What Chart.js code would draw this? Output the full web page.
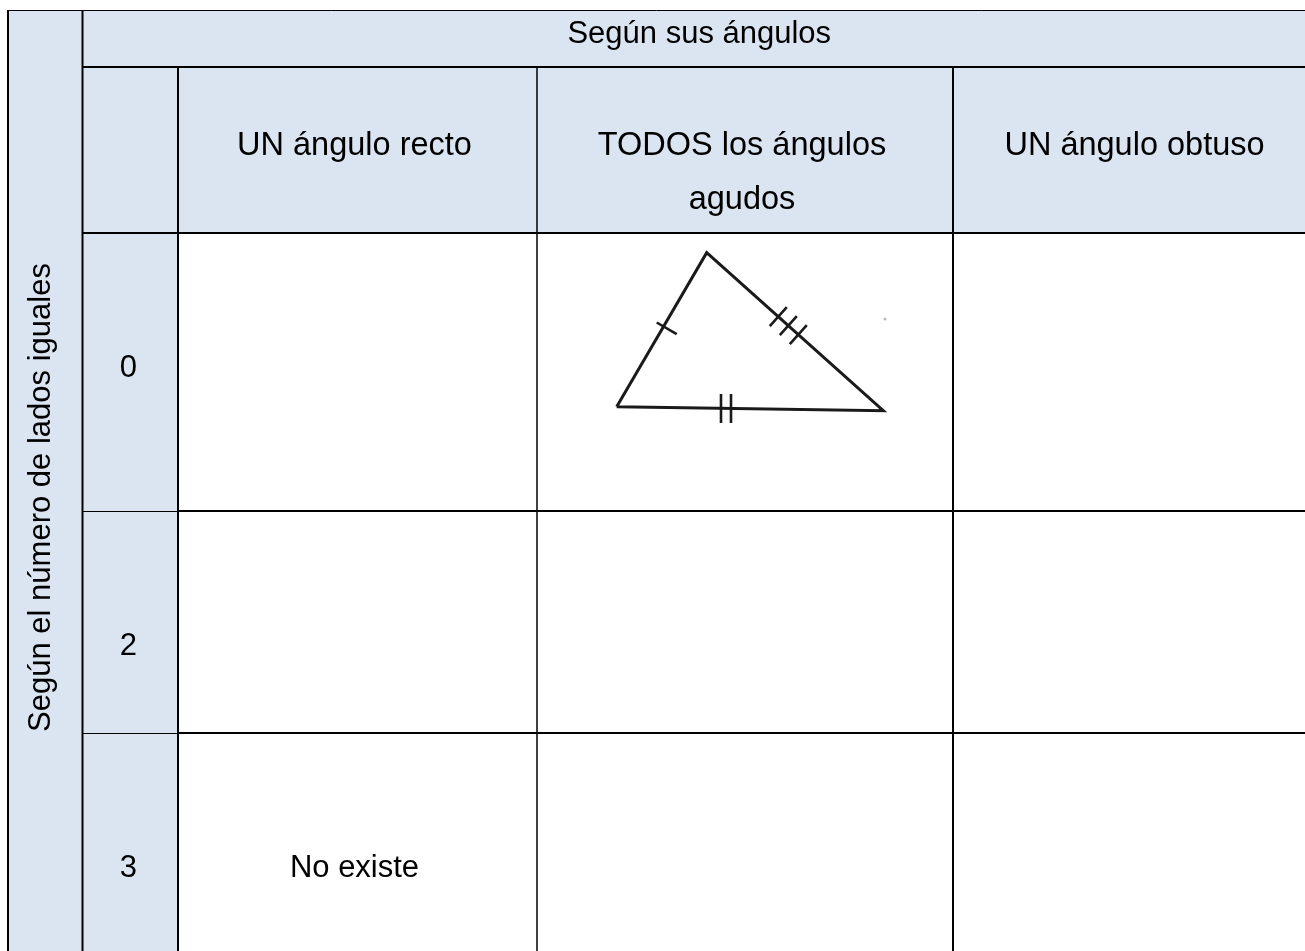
<!DOCTYPE html>
<html>
<head>
<meta charset="utf-8">
<script src="https://cdn.jsdelivr.net/npm/chart.js@4.4.0/dist/chart.umd.min.js"></script>
<style>
    html, body { margin: 0; padding: 0; background: #fff; overflow: hidden; }
    #wrap { width: 1305px; height: 951px; position: relative; }
</style>
</head>
<body>
<div id="wrap"><canvas id="tableChart"></canvas></div>
<script>
"use strict";

// table content
const topHeader = "Según sus ángulos";
const sideHeader = "Según el número de lados iguales";
const angleTypes = [["UN ángulo recto"], ["TODOS los ángulos", "agudos"], ["UN ángulo obtuso"]];
const equalSides = ["0", "2", "3"];
const cellTexts = [
    ["", "", ""],
    ["", "", ""],
    ["No existe", "", ""]
];

// the sketched triangle (row "0", column "TODOS los ángulos agudos"), in table units
const triangleX = [616.7, 706.7, 883.3, 616.7];
const triangleY = [406.7, 252.7, 410.7, 406.7];
// equal-side tick marks: [x1, y1, x2, y2]
const sideTicks = [
    [656.7, 322.5, 676.7, 334.1],
    [721, 394, 721, 423],
    [731, 394, 731, 423],
    [769.8, 326.2, 786.8, 307.2],
    [779.8, 335.1, 796.8, 316.1],
    [789.8, 344.1, 806.8, 325.1]
];
const speckX = [885];
const speckY = [319];

// grid of the table, in table units
const colEdges = [8, 82.5, 178, 537, 953, 1322];
const rowEdges = [10, 67, 233, 511, 733, 997];

const headerBlue = "#dbe5f1";
const inkColor = "#000000";
const penColor = "#1a1a1a";
const fontFamily = "'Liberation Sans', Arial, sans-serif";
const fontSize = 31;
const colHeadSize = 32.5;
const textShift = -3;

const tablePlugin = {
    id: "tableGrid",
    beforeDatasetsDraw(chart) {
        const { ctx, scales: { x, y } } = chart;
        const px = (v) => x.getPixelForValue(v);
        const py = (v) => y.getPixelForValue(v);
        const lastCol = colEdges[colEdges.length - 1];
        const lastRow = rowEdges[rowEdges.length - 1];

        const fillCell = (x0, y0, x1, y1, color) => {
            ctx.fillStyle = color;
            ctx.fillRect(px(x0), py(y0), px(x1) - px(x0), py(y1) - py(y0));
        };

        ctx.save();
        fillCell(colEdges[0], rowEdges[0], lastCol, lastRow, "#ffffff");
        fillCell(colEdges[0], rowEdges[0], colEdges[1], lastRow, headerBlue);
        fillCell(colEdges[1], rowEdges[0], lastCol, rowEdges[2], headerBlue);
        fillCell(colEdges[1], rowEdges[2], colEdges[2], lastRow, headerBlue);

        const hLine = (yv, x0, x1, w) => {
            ctx.lineWidth = w;
            ctx.beginPath();
            ctx.moveTo(px(x0), py(yv));
            ctx.lineTo(px(x1), py(yv));
            ctx.stroke();
        };
        const vLine = (xv, y0, y1, w) => {
            ctx.lineWidth = w;
            ctx.beginPath();
            ctx.moveTo(px(xv), py(y0));
            ctx.lineTo(px(xv), py(y1));
            ctx.stroke();
        };

        ctx.strokeStyle = inkColor;
        hLine(rowEdges[0] + 0.5, colEdges[0] - 1, lastCol, 1);
        vLine(colEdges[0], rowEdges[0], lastRow, 2);
        vLine(colEdges[1], rowEdges[0], lastRow, 2);
        hLine(rowEdges[1], colEdges[1], lastCol, 2);
        vLine(colEdges[2], rowEdges[1], lastRow, 2);
        vLine(colEdges[3], rowEdges[1], lastRow, 1.5);
        vLine(colEdges[4], rowEdges[1], lastRow, 2);
        hLine(rowEdges[2], colEdges[1], lastCol, 2);
        for (let r = 3; r < rowEdges.length - 1; r++) {
            hLine(rowEdges[r] + 0.5, colEdges[1], colEdges[2], 1);
            hLine(rowEdges[r], colEdges[2], lastCol, 2);
        }
        ctx.restore();
    },
    afterDatasetsDraw(chart) {
        const { ctx, scales: { x, y } } = chart;
        const px = (v) => x.getPixelForValue(v);
        const py = (v) => y.getPixelForValue(v);
        const lastCol = colEdges[colEdges.length - 1];
        const lastRow = rowEdges[rowEdges.length - 1];
        const midX = (a, b) => px((a + b) / 2 + textShift);

        ctx.save();
        ctx.fillStyle = inkColor;
        ctx.textAlign = "center";
        ctx.textBaseline = "middle";

        ctx.font = `${fontSize}px ${fontFamily}`;
        ctx.fillText(topHeader, midX(colEdges[1], lastCol), py(rowEdges[0] + 24));

        ctx.font = `${colHeadSize}px ${fontFamily}`;
        angleTypes.forEach((lines, i) => {
            lines.forEach((line, k) => {
                ctx.fillText(line, midX(colEdges[i + 2], colEdges[i + 3]), py(rowEdges[1] + 79 + k * 54));
            });
        });

        // data rows are top aligned in the source table
        ctx.font = `${fontSize}px ${fontFamily}`;
        equalSides.forEach((label, r) => {
            const yc = py(rowEdges[r + 2] + 135);
            ctx.fillText(label, midX(colEdges[1], colEdges[2]) + 1, yc);
            cellTexts[r].forEach((txt, c) => {
                if (txt) ctx.fillText(txt, midX(colEdges[c + 2], colEdges[c + 3]), yc);
            });
        });

        ctx.translate(px((colEdges[0] + colEdges[1]) / 2 - 4), py((rowEdges[0] + lastRow) / 2 - 6));
        ctx.rotate(-Math.PI / 2);
        ctx.fillText(sideHeader, 0, 0);
        ctx.restore();
    }
};

const toPoints = (xs, ys) => xs.map((v, i) => ({ x: v, y: ys[i] }));

const datasets = [
    {
        label: "triángulo",
        data: toPoints(triangleX, triangleY),
        showLine: true,
        borderColor: penColor,
        borderWidth: 3,
        borderJoinStyle: "miter",
        pointRadius: 0,
        fill: false
    },
    ...sideTicks.map((t, i) => ({
        label: `marca ${i + 1}`,
        data: [{ x: t[0], y: t[1] }, { x: t[2], y: t[3] }],
        showLine: true,
        borderColor: penColor,
        borderWidth: 2.6,
        pointRadius: 0
    })),
    {
        label: "punto",
        data: toPoints(speckX, speckY),
        pointRadius: 1.5,
        pointBackgroundColor: "#b8b8b8",
        pointBorderWidth: 0
    }
];

new Chart(document.getElementById("tableChart"), {
    type: "scatter",
    data: { datasets },
    options: {
        responsive: true,
        maintainAspectRatio: false,
        animation: false,
        layout: { padding: 0, autoPadding: false },
        plugins: {
            legend: { display: false },
            tooltip: { enabled: false }
        },
        scales: {
            x: { type: "linear", min: 0, max: 1305, display: false },
            y: { type: "linear", min: 0, max: 951, reverse: true, display: false }
        }
    },
    plugins: [tablePlugin]
});
</script>
</body>
</html>
